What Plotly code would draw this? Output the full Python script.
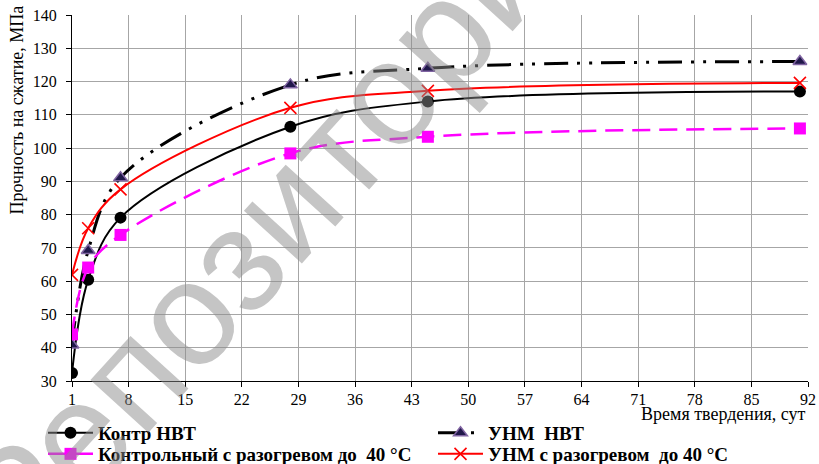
import plotly.graph_objects as go

days = [1, 3, 7, 28, 45, 91]
kontr_nvt = [32.4, 60.4, 79.1, 106.4, 114.0, 117.0]
unm_nvt = [40.8, 69.2, 91.1, 119.0, 124.0, 126.0]
kontr_heat = [44.0, 64.1, 73.9, 98.4, 103.4, 105.9]
unm_heat = [61.9, 75.9, 87.6, 112.1, 117.2, 119.6]

names = ["Контр НВТ", "УНМ\u00a0\u00a0НВТ", "Контрольный с разогревом до\u00a0\u00a040 °C",
         "УНМ с разогревом\u00a0\u00a0до 40 °C"]
x_ticks = list(range(1, 93, 7))
y_ticks = list(range(30, 141, 10))

W, H = 819, 464
L, R, T, B = 72, 11, 15, 83
PW, PH = W - L - R, H - T - B
SERIF = "Liberation Serif, Times New Roman, serif"

fig = go.Figure()
fig.add_trace(go.Scatter(
    x=days, y=kontr_nvt, name=names[0], mode="lines+markers", legend="legend",
    line=dict(color="black", width=2, shape="spline", smoothing=1.0),
    marker=dict(symbol="circle", size=12, color="black")))
fig.add_trace(go.Scatter(
    x=days, y=unm_nvt, name=names[1], mode="lines+markers", legend="legend",
    line=dict(color="black", width=3, shape="spline", smoothing=1.0,
              dash="24px,9px,3px,9px,3px,9px"),
    marker=dict(symbol="triangle-up", size=12, color="#20184a",
                line=dict(color="#8064a2", width=1.5))))
fig.add_trace(go.Scatter(
    x=days, y=kontr_heat, name=names[2], mode="lines+markers", legend="legend2",
    line=dict(color="#ff00ff", width=2.5, shape="spline", smoothing=1.0,
              dash="18px,9px"),
    marker=dict(symbol="square", size=12, color="#ff00ff")))
fig.add_trace(go.Scatter(
    x=days, y=unm_heat, name=names[3], mode="lines+markers", legend="legend2",
    line=dict(color="#ff0000", width=2, shape="spline", smoothing=1.0),
    marker=dict(symbol="x-thin", size=12, color="#ff0000",
                line=dict(color="#ff0000", width=1.6))))

tick_font = dict(family=SERIF, size=16, color="black")

fig.update_xaxes(range=[1, 92], tickvals=x_ticks, ticktext=[str(v) for v in x_ticks],
                 showgrid=True, gridcolor="#a6a6a6", gridwidth=1,
                 showline=True, linecolor="black", linewidth=1,
                 ticks="outside", ticklen=5, tickcolor="black",
                 ticklabelstandoff=-1,
                 tickfont=tick_font, zeroline=False)
fig.update_yaxes(range=[30, 140], tickvals=y_ticks,
                 showgrid=True, gridcolor="#a6a6a6", gridwidth=1,
                 showline=True, linecolor="black", linewidth=1,
                 ticks="outside", ticklen=5, tickcolor="black",
                 ticklabelstandoff=6,
                 tickfont=tick_font, zeroline=False)

legend_common = dict(orientation="h", x=(43 - L) / PW, xanchor="left", yanchor="top",
                     entrywidth=330, entrywidthmode="pixels",
                     itemwidth=45, tracegroupgap=0,
                     font=dict(family=SERIF, size=19, color="black", weight="bold"),
                     bgcolor="rgba(0,0,0,0)")

fig.update_layout(
    width=W, height=H,
    margin=dict(l=L, r=R, t=T, b=B, autoexpand=False),
    paper_bgcolor="white", plot_bgcolor="white",
    font=dict(family=SERIF),
    showlegend=True,
    legend=dict(legend_common, y=-(414 - (T + PH)) / PH),
    legend2=dict(legend_common, y=-(435 - (T + PH)) / PH),
    annotations=[
        dict(text="Прочность на сжатие, МПа", textangle=-90,
             xref="paper", yref="paper", x=-(L - 16) / PW, y=1 + (T - 4) / PH,
             xanchor="center", yanchor="top", showarrow=False,
             font=dict(family=SERIF, size=18, color="black")),
        dict(text="Время твердения, сут",
             xref="paper", yref="paper", x=1.0, y=-(414 - (T + PH)) / PH,
             xanchor="right", yanchor="middle", showarrow=False,
             font=dict(family=SERIF, size=18, color="black")),
        dict(text="Репозиторий", textangle=-47.8,
             xref="paper", yref="paper", x=(282 - L) / PW, y=(T + PH - 208) / PH,
             xanchor="center", yanchor="middle", showarrow=False,
             font=dict(family="Liberation Sans, Arial, sans-serif", size=148,
                       color="rgba(140,140,140,0.5)")),
    ],
)

fig.write_html("out.html")
